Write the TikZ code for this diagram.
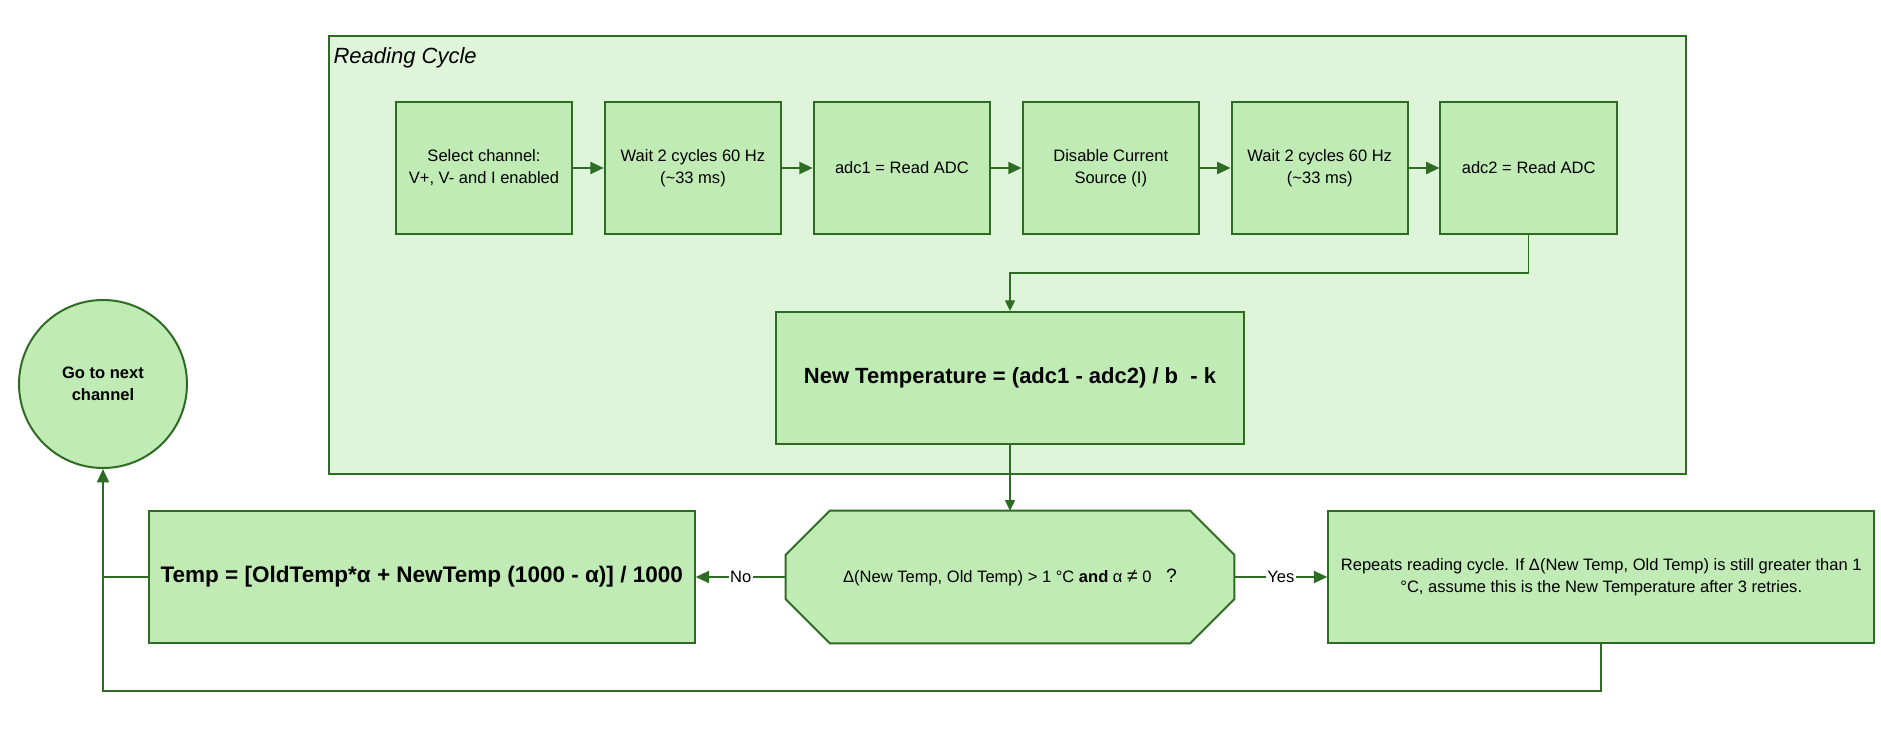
\documentclass[tikz,border=0pt]{standalone}
\usepackage{fontspec}
\setmainfont{Liberation Sans}
\usepackage{xcolor}
\usepackage{tikz}
\usetikzlibrary{arrows.meta, positioning, calc, backgrounds}
\definecolor{darkgreen}{HTML}{2E6B23}
\definecolor{boxgreen}{HTML}{C0EBB5}
\definecolor{cyclegreen}{HTML}{DFF5DA}
\newcommand{\boxfont}{\fontsize{12.4}{16.5}\selectfont}
\newcommand{\bigfont}{\fontsize{16.5}{20}\selectfont\bfseries}
\tikzstyle{cyclebox} = [rectangle, minimum width=1017.75pt, minimum height=328.5pt, anchor=north west, draw=darkgreen, line width=1.5pt, fill=cyclegreen]
\tikzstyle{stepbox} = [rectangle, minimum width=132.3pt, minimum height=99pt, align=center, draw=darkgreen, line width=1.5pt, fill=boxgreen, font=\boxfont]
\tikzstyle{formula} = [rectangle, minimum height=99pt, align=center, draw=darkgreen, line width=1.5pt, fill=boxgreen, font=\bigfont]
\tikzstyle{endcircle} = [circle, minimum size=126pt, align=center, draw=darkgreen, line width=1.5pt, fill=boxgreen, font=\boxfont\bfseries]
\tikzstyle{decision} = [rectangle, minimum width=336pt, minimum height=99pt, align=center, font=\boxfont]
\tikzstyle{octagon} = [draw=darkgreen, line width=1.5pt, fill=boxgreen]
\tikzstyle{arrow} = [draw=darkgreen, line width=1.5pt, -{Triangle[length=10pt, width=9pt]}]
\tikzstyle{thinarrow} = [draw=darkgreen, line width=1pt, -{Triangle[length=8pt, width=7.5pt]}]
\tikzstyle{loopline} = [draw=darkgreen, line width=1.3pt]
\tikzstyle{answer} = [fill=white, inner sep=1pt, font=\boxfont]

\begin{document}
\begin{tikzpicture}
\useasboundingbox (0,0) rectangle (1410.75pt,-550.5pt);
\node (cycle) [cyclebox] at (246pt,-26.25pt) {};
\node (cyclelabel) [anchor=north west, inner sep=4pt, yshift=-5pt, font=\fontsize{16.5}{20}\selectfont\itshape] at (cycle.north west) {Reading Cycle};

\node (sel) [stepbox] at (363pt,-126pt) {Select channel:\\V+, V- and I enabled};
\node (wait1) [stepbox, right=22.9pt of sel] {Wait 2 cycles 60 Hz\\(\textasciitilde33 ms)};
\node (adc1) [stepbox, right=22.9pt of wait1] {adc1 = Read ADC};
\node (disable) [stepbox, right=22.9pt of adc1] {Disable Current\\Source (I)};
\node (wait2) [stepbox, right=22.9pt of disable] {Wait 2 cycles 60 Hz\\(\textasciitilde33 ms)};
\node (adc2) [stepbox, right=22.9pt of wait2] {adc2 = Read ADC};
\node (newtemp) [formula, minimum width=351pt] at (757.5pt,-283.5pt) {New Temperature = (adc1 - adc2) / b\ \ - k};

\node (check) [decision] at (757.5pt,-432.75pt) {Δ(New Temp, Old Temp) > 1 °C \textbf{and} α {\fontsize{14.5}{16}\selectfont ≠} 0\hspace{11pt}{\fontsize{14.5}{16}\selectfont ?}};
\node (filter) [formula, minimum width=409.5pt, left=67.5pt of check, font=\fontsize{16.9}{20}\selectfont\bfseries] {Temp = [OldTemp*α + NewTemp (1000 - α)] / 1000};
\node (retry) [stepbox, minimum width=409.5pt, right=69.75pt of check] {Repeats reading cycle. If Δ(New Temp, Old Temp) is still greater than 1\\°C, assume this is the New Temperature after 3 retries.};
\node (next) [endcircle] at (77.25pt,-288pt) {Go to next\\channel};

% octagon outline behind the decision text
\begin{scope}[on background layer]
\draw [octagon] ([xshift=33pt]check.north west) -- ([xshift=-33pt]check.north east) -- ([yshift=-33pt]check.north east) -- ([yshift=33pt]check.south east) -- ([xshift=-33pt]check.south east) -- ([xshift=33pt]check.south west) -- ([yshift=33pt]check.south west) -- ([yshift=-33pt]check.north west) -- cycle;
\end{scope}

\draw [arrow] (sel) -- (wait1);
\draw [arrow] (wait1) -- (adc1);
\draw [arrow] (adc1) -- (disable);
\draw [arrow] (disable) -- (wait2);
\draw [arrow] (wait2) -- (adc2);
\draw [thinarrow] (adc2.south) |- ($(adc2.south)!0.5!(newtemp.north)$) -| (newtemp.north);
\draw [thinarrow, line width=1.1pt] (newtemp) -- (check);
\draw [arrow] (check) -- node[answer] {No} (filter);
\draw [arrow] (check) -- node[answer] {Yes} (retry);
\draw [arrow, line width=1.3pt] (retry.south) -- ++(0,-35.25pt) -| (next.south);
\draw [loopline] (filter.west) -- (filter.west -| next.south);
\end{tikzpicture}
\end{document}
